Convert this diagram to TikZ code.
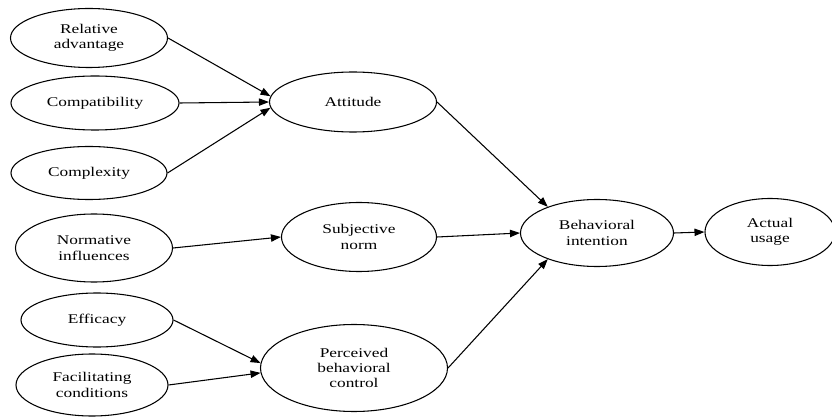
\documentclass[tikz,border=0pt]{standalone}
\usepackage{fontspec}
\setmainfont{Liberation Serif}[FakeStretch=1.3]
\usetikzlibrary{shapes.geometric,arrows.meta}

\begin{document}
\begin{tikzpicture}[x=0.75pt,y=0.75pt,yscale=-1,xscale=1,
  construct/.style={draw,ellipse,line width=0.8pt,inner sep=0pt,align=center,font=\fontsize{10}{11.5}\selectfont},
  link/.style={line width=0.8pt,-{Triangle[length=7.5pt,width=5.5pt]}}]
\useasboundingbox (0,0) rectangle (832,417);

%Shape: Ellipse [relative advantage]
\node [construct,minimum width=117.75pt,minimum height=44.25pt] (rel) at (89,38) {Relative\\advantage};
%Shape: Ellipse [compatibility]
\node [construct,minimum width=126pt,minimum height=40.5pt] (compat) at (95,103) {Compatibility};
%Shape: Ellipse [complexity]
\node [construct,minimum width=117pt,minimum height=39.75pt] (complex) at (89,173) {Complexity};
%Shape: Ellipse [attitude]
\node [construct,minimum width=125.25pt,minimum height=45pt] (att) at (353,102) {Attitude};
%Shape: Ellipse [normative influences]
\node [construct,minimum width=117.75pt,minimum height=51pt] (norm) at (94,248) {Normative\\influences};
%Shape: Ellipse [subjective norm]
\node [construct,minimum width=116.25pt,minimum height=51.75pt] (subj) at (359,237) {Subjective\\norm};
%Shape: Ellipse [efficacy]
\node [construct,minimum width=114pt,minimum height=40.5pt] (eff) at (97,320) {Efficacy};
%Shape: Ellipse [facilitating conditions]
\node [construct,minimum width=114pt,minimum height=46.5pt] (fac) at (92,385) {Facilitating\\conditions};
%Shape: Ellipse [perceived behavioral control]
\node [construct,minimum width=140.25pt,minimum height=65.25pt] (pbc) at (354,368) {Perceived\\behavioral\\control};
%Shape: Ellipse [behavioral intention]
\node [construct,minimum width=114.75pt,minimum height=50.25pt] (bi) at (597,233) {Behavioral\\intention};
%Shape: Ellipse [actual usage]
\node [construct,minimum width=97.5pt,minimum height=50.25pt] (use) at (770,232) {Actual\\usage};

%Straight Lines [into attitude]
\draw [link] (rel.east) -- (att.176);
\draw [link] (compat.east) -- (att.180);
\draw [link] (complex.east) -- (att.184);
%Straight Lines [into subjective norm]
\draw [link] (norm.east) -- (subj.west);
%Straight Lines [into perceived behavioral control]
\draw [link] (eff.east) -- (pbc.177);
\draw [link] (fac.east) -- (pbc.183);
%Straight Lines [into behavioral intention]
\draw [link] (att.east) -- (bi.152);
\draw [link] (subj.east) -- (bi.west);
\draw [link] (pbc.east) -- (bi.208);
%Straight Lines [into actual usage]
\draw [link] (bi.east) -- (use.west);

\end{tikzpicture}
\end{document}
